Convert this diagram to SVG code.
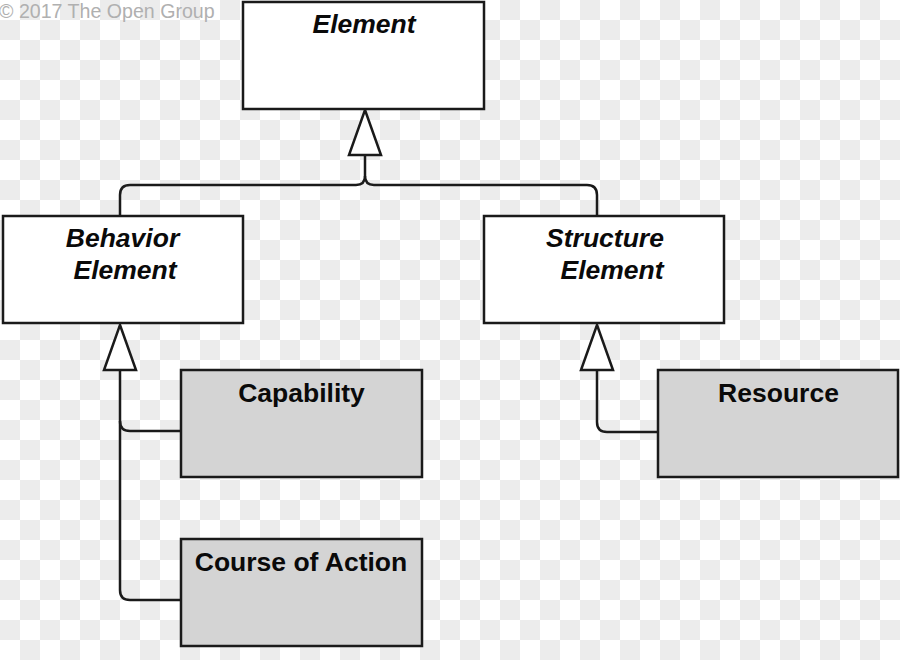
<svg xmlns="http://www.w3.org/2000/svg" width="900" height="660" viewBox="0 0 900 660">
<defs>
<pattern id="checker" x="0" y="0" width="40" height="40" patternUnits="userSpaceOnUse">
<rect x="0" y="0" width="40" height="40" fill="#ffffff"/>
<rect x="20" y="0" width="20" height="20" fill="#ececec"/>
<rect x="0" y="20" width="20" height="20" fill="#ececec"/>
</pattern>
<path id="tri" d="M0,0 L16,45 L-16,45 Z"/>
</defs>
<style>
.box{stroke:#1a1a1a;stroke-width:2.5}
.abs{fill:#ffffff}
.con{fill:#d4d4d4}
.lbl{font-family:"Liberation Sans",Arial,sans-serif;font-size:26.5px;font-weight:bold;fill:#0a0a0a;text-anchor:middle}
.it{font-style:italic}
.line{fill:none;stroke:#1a1a1a;stroke-width:2.5}
.head{fill:#ffffff;stroke:#1a1a1a;stroke-width:2.5;stroke-linejoin:miter}
.copy{font-family:"Liberation Sans",Arial,sans-serif;font-size:19.6px;fill:#b0b0b0}
</style>
<rect x="0" y="0" width="900" height="660" fill="url(#checker)"/>
<text class="copy" x="-1" y="18">© 2017 The Open Group</text>
<g id="connectors">
<path class="line" d="M365,155 V176 Q365,185 356,185 H130 Q120,185 120,195 V216"/>
<path class="line" d="M365,176 Q365,185 374,185 H587 Q597,185 597,195 V216"/>
<path class="line" d="M120,370 V590 Q120,600 130,600 H181"/>
<path class="line" d="M120,421 Q120,431 130,431 H181"/>
<path class="line" d="M597,370 V422 Q597,432 607,432 H658"/>
<use href="#tri" class="head" x="365" y="110"/>
<use href="#tri" class="head" x="120" y="325"/>
<use href="#tri" class="head" x="597" y="325"/>
</g>
<g id="element">
<rect class="box abs" x="243" y="2" width="241" height="107"/>
<text class="lbl it" x="364" y="33">Element</text>
</g>
<g id="behavior-element">
<rect class="box abs" x="3" y="216" width="240" height="107"/>
<text class="lbl it" x="122.5" y="247">Behavior</text>
<text class="lbl it" x="125" y="279">Element</text>
</g>
<g id="structure-element">
<rect class="box abs" x="484" y="216" width="240" height="107"/>
<text class="lbl it" x="605" y="247">Structure</text>
<text class="lbl it" x="612" y="279">Element</text>
</g>
<g id="capability">
<rect class="box con" x="181" y="370" width="241" height="107"/>
<text class="lbl" x="301.5" y="402">Capability</text>
</g>
<g id="course-of-action">
<rect class="box con" x="181" y="539" width="241" height="107"/>
<text class="lbl" x="301" y="571">Course of Action</text>
</g>
<g id="resource">
<rect class="box con" x="658" y="370" width="240" height="107"/>
<text class="lbl" x="778.5" y="402">Resource</text>
</g>
</svg>
